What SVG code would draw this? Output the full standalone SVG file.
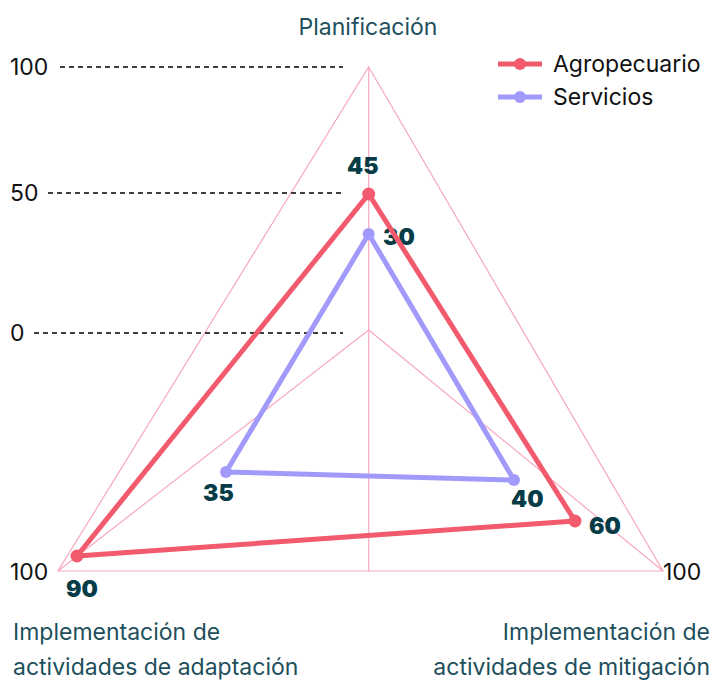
<svg xmlns="http://www.w3.org/2000/svg" width="713" height="680" viewBox="0 0 713 680">
<style>
.grid{fill:none;stroke:#f7a8bf;stroke-width:1.2}
.dash{stroke:#000;stroke-width:1.3;stroke-dasharray:5 4}
.axisnum{font-family:Inter,"Liberation Sans",sans-serif;font-size:23px;fill:#111}
.title{font-family:Inter,"Liberation Sans",sans-serif;font-size:23px;fill:#1d4f5c}
.leg{font-family:Inter,"Liberation Sans",sans-serif;font-size:23px;fill:#111}
.val{font-family:Inter,"Liberation Sans",sans-serif;font-size:23px;font-weight:900;fill:#063c47}
.agro{fill:none;stroke:#f25a6e;stroke-width:5;stroke-linejoin:round}
.serv{fill:none;stroke:#a29afb;stroke-width:5;stroke-linejoin:round}
.agrodot{fill:#f25a6e}
.servdot{fill:#a29afb}
</style>
<g id="grid">
<polygon class="grid" points="368.7,67 663,571 58,571"/>
<line class="grid" x1="368.7" y1="67" x2="368.7" y2="571"/>
<line class="grid" x1="368.7" y1="330" x2="58" y2="571"/>
<line class="grid" x1="368.7" y1="330" x2="663" y2="571"/>
</g>
<g id="scale">
<line class="dash" x1="60" y1="67" x2="343" y2="67"/>
<line class="dash" x1="48" y1="193" x2="343" y2="193"/>
<line class="dash" x1="34" y1="333" x2="343" y2="333"/>
<text class="axisnum" x="10" y="75">100</text>
<text class="axisnum" x="10" y="201">50</text>
<text class="axisnum" x="10" y="341">0</text>
<text class="axisnum" x="10" y="580">100</text>
<text class="axisnum" x="663" y="580">100</text>
</g>
<g id="axis-labels">
<text class="title" x="368" y="35" text-anchor="middle">Planificación</text>
<text class="title" x="13" y="640">Implementación de</text>
<text class="title" x="13" y="675">actividades de adaptación</text>
<text class="title" x="710" y="640" text-anchor="end">Implementación de</text>
<text class="title" x="710" y="675" text-anchor="end">actividades de mitigación</text>
</g>
<g id="series-servicios">
<polygon class="serv" points="368.7,234 514,480 226,472"/>
<circle class="servdot" cx="368.7" cy="234" r="6"/>
<circle class="servdot" cx="514" cy="480" r="6"/>
<circle class="servdot" cx="226" cy="472" r="6"/>
<text class="val" x="383" y="245">30</text>
<text class="val" x="511" y="507">40</text>
<text class="val" x="203" y="501">35</text>
</g>
<g id="series-agropecuario">
<polygon class="agro" points="368.7,194 575,521 77,556"/>
<circle class="agrodot" cx="368.7" cy="194" r="6.5"/>
<circle class="agrodot" cx="575" cy="521" r="6.5"/>
<circle class="agrodot" cx="77" cy="556" r="6.5"/>
<text class="val" x="347" y="174">45</text>
<text class="val" x="589" y="534">60</text>
<text class="val" x="66" y="597">90</text>
</g>
<g id="legend">
<line x1="498" y1="64" x2="542" y2="64" stroke="#f25a6e" stroke-width="5"/>
<circle class="agrodot" cx="520" cy="64" r="6"/>
<text class="leg" x="553" y="72">Agropecuario</text>
<line x1="498" y1="97" x2="542" y2="97" stroke="#a29afb" stroke-width="5"/>
<circle class="servdot" cx="520" cy="97" r="6"/>
<text class="leg" x="553" y="105">Servicios</text>
</g>
</svg>
